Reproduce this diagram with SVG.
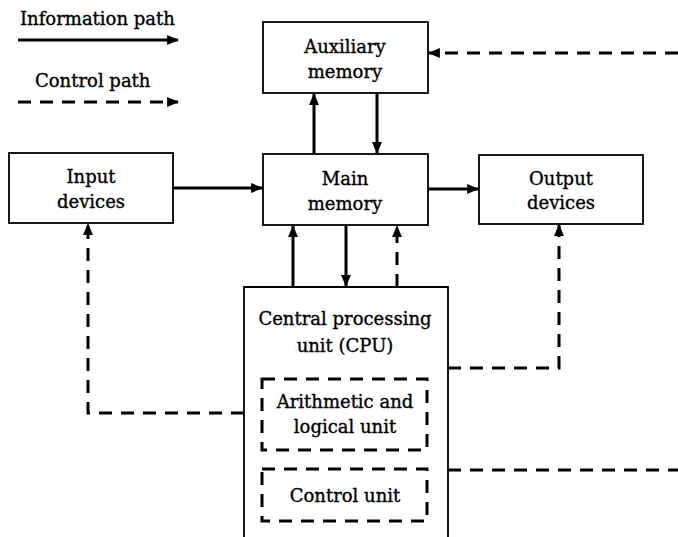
<svg xmlns="http://www.w3.org/2000/svg" width="678" height="537" viewBox="0 0 678 537">
  <style>
    .box { fill: #fff; stroke: #000; stroke-width: 1.8; }
    .inner { fill: none; stroke: #000; stroke-width: 3; stroke-dasharray: 13 9; }
    .info { fill: none; stroke: #000; stroke-width: 3; marker-end: url(#head); }
    .ctrl { fill: none; stroke: #000; stroke-width: 3; stroke-dasharray: 13 9; }
    .ctrl-a { fill: none; stroke: #000; stroke-width: 3; stroke-dasharray: 13 9; marker-end: url(#head); }
    text { font-family: "DejaVu Serif", "Liberation Serif", serif; font-size: 18px; fill: #000; stroke: #000; stroke-width: 0.35; text-anchor: middle; }
    .left { text-anchor: start; }
  </style>
  <defs>
    <marker id="head" viewBox="0 0 12 10" refX="11" refY="5" markerWidth="4" markerHeight="3.3" orient="auto" markerUnits="strokeWidth">
      <path d="M0,0 L12,5 L0,10 Z" fill="#000"/>
    </marker>
  </defs>
  <rect width="678" height="537" fill="#fff"/>

  <!-- legend -->
  <g id="legend">
    <text class="left" x="20" y="25">Information path</text>
    <line class="info" x1="18" y1="40" x2="178" y2="40"/>
    <text class="left" x="35" y="87">Control path</text>
    <line class="ctrl-a" x1="18" y1="102" x2="178" y2="102"/>
  </g>

  <!-- connectors -->
  <g id="connectors">
    <!-- main <-> auxiliary -->
    <line class="info" x1="314" y1="154" x2="314" y2="94"/>
    <line class="info" x1="377" y1="93" x2="377" y2="153"/>
    <!-- control into auxiliary memory -->
    <line class="ctrl-a" x1="678" y1="53" x2="429" y2="53"/>
    <!-- input -> main, main -> output -->
    <line class="info" x1="173" y1="188" x2="262" y2="188"/>
    <line class="info" x1="428" y1="189" x2="478" y2="189"/>
    <!-- main <-> CPU -->
    <line class="info" x1="293" y1="287" x2="293" y2="226"/>
    <line class="info" x1="346" y1="225" x2="346" y2="286"/>
    <line class="ctrl-a" x1="397" y1="287" x2="397" y2="226"/>
    <!-- CPU control to input devices -->
    <path class="ctrl-a" d="M244,413 L88,413 L88,224"/>
    <!-- CPU control to output devices -->
    <path class="ctrl-a" d="M448,368 L559,368 L559,225"/>
    <!-- CPU control out to the right -->
    <line class="ctrl" x1="448" y1="470" x2="678" y2="470"/>
  </g>

  <g id="auxiliary-memory">
    <rect class="box" x="263" y="22" width="165" height="71"/>
    <text x="345" y="53">Auxiliary</text>
    <text x="345" y="78">memory</text>
  </g>

  <g id="input-devices">
    <rect class="box" x="9" y="153" width="164" height="70"/>
    <text x="91" y="183">Input</text>
    <text x="91" y="208">devices</text>
  </g>

  <g id="main-memory">
    <rect class="box" x="263" y="154" width="165" height="71"/>
    <text x="345" y="185">Main</text>
    <text x="345" y="210">memory</text>
  </g>

  <g id="output-devices">
    <rect class="box" x="479" y="155" width="164" height="69"/>
    <text x="561" y="185">Output</text>
    <text x="561" y="209">devices</text>
  </g>

  <g id="cpu">
    <path class="box" d="M244,540 L244,287 L448,287 L448,540"/>
    <text x="345" y="325">Central processing</text>
    <text x="345" y="352">unit (CPU)</text>
  </g>

  <g id="alu">
    <rect class="inner" x="262" y="379" width="165" height="71"/>
    <text x="345" y="408">Arithmetic and</text>
    <text x="345" y="433">logical unit</text>
  </g>

  <g id="control-unit">
    <rect class="inner" x="262" y="469" width="165" height="52"/>
    <text x="345" y="502">Control unit</text>
  </g>
</svg>
